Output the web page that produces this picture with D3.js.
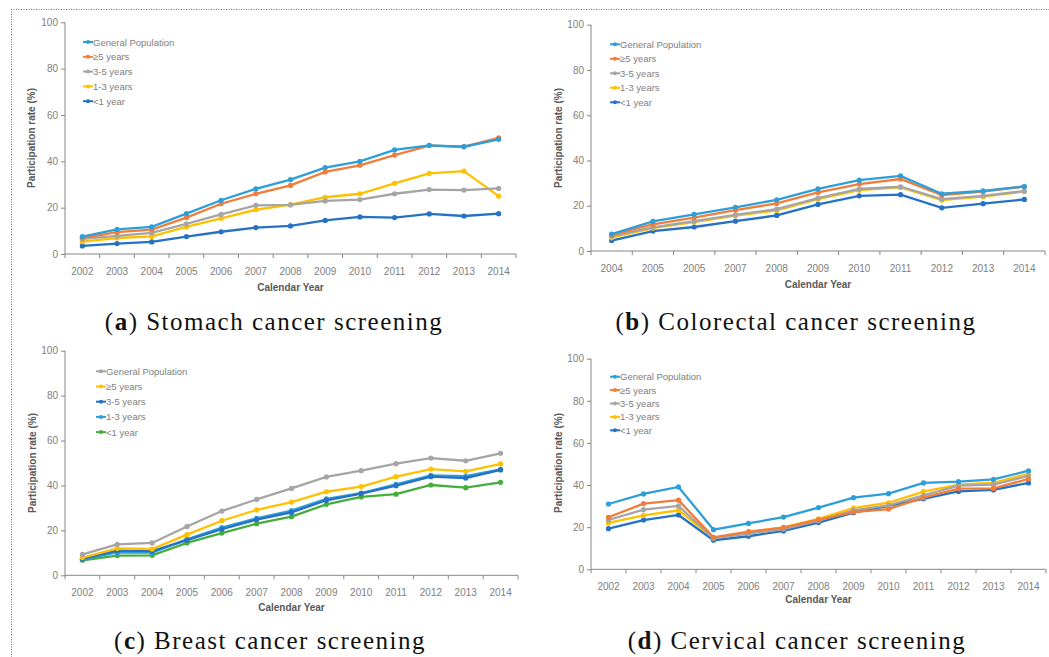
<html lang="en">
<head>
    <title>Screening participation</title>
    <script src="https://d3js.org/d3.v7.min.js"></script>
    <style>
        body { margin: 0; background: #fff; }
        text { font-family: "Liberation Sans", Arial, sans-serif; }
        .tick text { fill: #808080; font-size: 10px; }
        .axis path, .axis line { stroke: #868686; }
        .title { fill: #595959; font-size: 10px; font-weight: bold; }
        .legend { fill: #808080; font-size: 9.5px; }
        .caption { font-family: "Liberation Serif", "Times New Roman", serif; font-size: 25px; letter-spacing: 1.5px; fill: #111; }
    </style>
</head>
<body>
<div id="chart"></div>
<script>

	// colours used in the source figures
	var cLight = "#2C9FDA", cOrange = "#F27C3A", cGray = "#A5A5A5",
		cYellow = "#FFC000", cDark = "#2571C3", cGreen = "#45AD3E";

	var years = ["2002","2003","2004","2005","2006","2007","2008","2009","2010","2011","2012","2013","2014"];
	// panel b has the duplicate "2005" label as in the original
	var yearsB = ["2004","2005","2005","2007","2008","2009","2010","2011","2012","2013","2014"];
	var yTicks = [0, 20, 40, 60, 80, 100];

	var namesA = ["General Population", "\u22655 years", "3-5 years", "1-3 years", "<1 year"];

	// (a) stomach
	var stomachGeneral = [7.5,10.6,11.7,17.4,23.2,28.1,32.1,37.3,40.0,44.9,46.9,46.3,49.5];
	var stomach5 = [6.9,9.4,10.5,15.7,21.7,26.0,29.6,35.4,38.3,42.7,46.8,46.3,50.1];
	var stomach35 = [6.5,7.8,9.1,13.0,17.1,21.0,21.2,22.9,23.5,26.0,27.8,27.6,28.3];
	var stomach13 = [5.3,6.9,7.6,11.7,15.4,19.1,21.3,24.5,26.0,30.5,34.8,35.8,25.0];
	var stomach1 = [3.5,4.5,5.2,7.5,9.6,11.4,12.1,14.5,16.0,15.7,17.3,16.4,17.4];

	// (b) colorectal
	var colonGeneral = [7.5,13.1,16.2,19.3,22.6,27.5,31.3,33.2,25.3,26.6,28.5];
	var colon5 = [7.1,11.8,14.7,18.1,21.0,25.9,29.6,31.8,24.7,26.3,28.5];
	var colon35 = [6.6,10.4,13.2,16.0,18.5,23.4,27.4,28.4,22.9,24.4,26.5];
	var colon13 = [5.9,10.1,12.8,15.6,17.9,22.9,26.9,28.1,22.5,24.0,26.3];
	var colon1 = [4.6,8.8,10.6,13.2,15.7,20.6,24.4,24.9,19.1,20.9,22.8];

	// (c) breast
	var breastGeneral = [9.3,13.8,14.4,21.7,28.6,33.8,38.7,43.8,46.6,49.7,52.2,51.0,54.3];
	var breast5 = [7.9,12.0,11.7,18.1,24.3,29.1,32.6,37.2,39.5,43.9,47.3,46.3,49.6];
	var breast35 = [7.4,11.0,10.8,15.7,20.5,24.8,28.0,33.4,36.4,39.9,43.9,43.3,46.9];
	var breast13 = [7.1,10.2,10.1,16.0,21.2,25.4,28.8,34.0,36.6,40.5,44.5,44.1,47.2];
	var breast1 = [6.7,8.8,8.9,14.4,18.8,23.0,26.1,31.6,34.9,36.1,40.2,39.0,41.4];

	// (d) cervical
	var cervixGeneral = [31.0,35.8,39.1,18.8,21.8,24.8,29.3,34.0,35.9,41.0,41.6,42.7,46.8];
	var cervix5 = [24.7,31.2,32.8,15.2,17.9,19.8,23.6,27.2,28.6,34.0,38.3,38.4,42.9];
	var cervix35 = [23.4,28.3,30.1,14.7,16.9,19.1,23.1,28.0,30.4,35.1,39.7,40.2,44.3];
	var cervix13 = [22.0,25.6,28.0,14.9,17.7,19.9,23.9,29.1,31.6,36.9,40.2,41.1,45.3];
	var cervix1 = [19.3,23.4,25.8,13.8,15.7,18.2,22.2,26.9,30.1,33.5,37.0,37.7,41.0];

	var svg = d3.select("#chart").append("svg")
		.attr("width", 1049)
		.attr("height", 657);

	// dotted frame on top and left
	svg.append("line").attr("x1", 11).attr("x2", 1049).attr("y1", 9.5).attr("y2", 9.5)
		.attr("stroke", "#666").attr("stroke-dasharray", "1,1.5");
	svg.append("line").attr("x1", 11.5).attr("x2", 11.5).attr("y1", 9).attr("y2", 657)
		.attr("stroke", "#666").attr("stroke-dasharray", "1,1.5");

	var panels = [
		{ box: {l: 65, r: 516, t: 22.3, b: 254}, labels: years,
		  series: [stomachGeneral, stomach5, stomach35, stomach13, stomach1],
		  colors: [cLight, cOrange, cGray, cYellow, cDark],
		  legend: {x: 83, y: 42, dy: 14.8}, ylab: {x: 31, y: 138}, xlab: 287,
		  letter: "a", caption: " Stomach cancer screening", cap: {x: 274, y: 330} },
		{ box: {l: 591, r: 1045, t: 24.7, b: 251}, labels: yearsB,
		  series: [colonGeneral, colon5, colon35, colon13, colon1],
		  colors: [cLight, cOrange, cGray, cYellow, cDark],
		  legend: {x: 610, y: 44.3, dy: 14.5}, ylab: {x: 558, y: 138}, xlab: 284,
		  letter: "b", caption: " Colorectal cancer screening", cap: {x: 796, y: 330} },
		{ box: {l: 65, r: 518, t: 350.7, b: 575.3}, labels: years,
		  series: [breastGeneral, breast5, breast35, breast13, breast1],
		  colors: [cGray, cYellow, cDark, cLight, cGreen],
		  legend: {x: 96, y: 371.3, dy: 15.2}, ylab: {x: 32, y: 463}, xlab: 607,
		  letter: "c", caption: " Breast cancer screening", cap: {x: 270, y: 649} },
		{ box: {l: 591, r: 1046, t: 358.7, b: 569.3}, labels: years,
		  series: [cervixGeneral, cervix5, cervix35, cervix13, cervix1],
		  colors: [cLight, cOrange, cGray, cYellow, cDark],
		  legend: {x: 610, y: 376.7, dy: 13.4}, ylab: {x: 558, y: 463}, xlab: 599,
		  letter: "d", caption: " Cervical cancer screening", cap: {x: 797, y: 649} }
	];

	panels.forEach(function(p) {
		var g = svg.append("g");

		var x = d3.scaleBand()
			.domain(d3.range(p.labels.length))
			.range([p.box.l, p.box.r]);
		var y = d3.scaleLinear()
			.domain([0, 100])
			.range([p.box.b, p.box.t]);

		// x axis, ticks on band edges
		var xa = g.append("g").attr("class", "axis")
			.attr("transform", "translate(0," + p.box.b + ")")
			.call(d3.axisBottom(x).tickSize(0).tickPadding(14)
				.tickFormat(function(i) { return p.labels[i]; }));
		xa.select(".domain").attr("d", "M" + p.box.l + ",0H" + p.box.r);
		xa.selectAll(".edge")
			.data(d3.range(p.labels.length + 1))
			.enter().append("line")
			.attr("x1", function(i) { return p.box.l + i * x.step(); })
			.attr("x2", function(i) { return p.box.l + i * x.step(); })
			.attr("y1", 0).attr("y2", 4);

		// y axis
		var ya = g.append("g").attr("class", "axis")
			.attr("transform", "translate(" + p.box.l + ",0)")
			.call(d3.axisLeft(y).tickValues(yTicks).tickSize(4).tickSizeOuter(0));
		ya.select(".domain").attr("d", "M0," + p.box.t + "V" + p.box.b);

		// lines, drawn bottom series first
		var line = d3.line()
			.x(function(d, i) { return x(i) + x.bandwidth() / 2; })
			.y(function(d) { return y(d); });

		for (var k = p.series.length - 1; k >= 0; k--) {
			var s = p.series[k];
			g.append("path")
				.attr("d", line(s))
				.attr("fill", "none")
				.attr("stroke", p.colors[k])
				.attr("stroke-width", 2.3);
			g.selectAll(".pt" + k)
				.data(s)
				.enter().append("circle")
				.attr("cx", function(d, i) { return x(i) + x.bandwidth() / 2; })
				.attr("cy", function(d) { return y(d); })
				.attr("r", 2.6)
				.attr("fill", p.colors[k]);
		}

		// legend
		namesA.forEach(function(n, k) {
			var ly = p.legend.y + k * p.legend.dy;
			g.append("line")
				.attr("x1", p.legend.x).attr("x2", p.legend.x + 10)
				.attr("y1", ly).attr("y2", ly)
				.attr("stroke", p.colors[k]).attr("stroke-width", 2);
			g.append("circle")
				.attr("cx", p.legend.x + 5).attr("cy", ly).attr("r", 2)
				.attr("fill", p.colors[k]);
			g.append("text")
				.attr("class", "legend")
				.attr("x", p.legend.x + 10)
				.attr("y", ly + 3.5)
				.text(n);
		});

		// axis titles
		g.append("text")
			.attr("class", "title")
			.attr("text-anchor", "middle")
			.attr("transform", "translate(" + p.ylab.x + "," + p.ylab.y + ") rotate(-90)")
			.attr("dy", "0.35em")
			.text("Participation rate (%)");
		g.append("text")
			.attr("class", "title")
			.attr("text-anchor", "middle")
			.attr("x", (p.box.l + p.box.r) / 2)
			.attr("y", p.xlab + 3.5)
			.text("Calendar Year");

		// caption
		var cap = g.append("text")
			.attr("class", "caption")
			.attr("text-anchor", "middle")
			.attr("x", p.cap.x)
			.attr("y", p.cap.y);
		cap.append("tspan").text("(");
		cap.append("tspan").attr("font-weight", "bold").text(p.letter);
		cap.append("tspan").text(")" + p.caption);
	});

</script>
</body>
</html>
